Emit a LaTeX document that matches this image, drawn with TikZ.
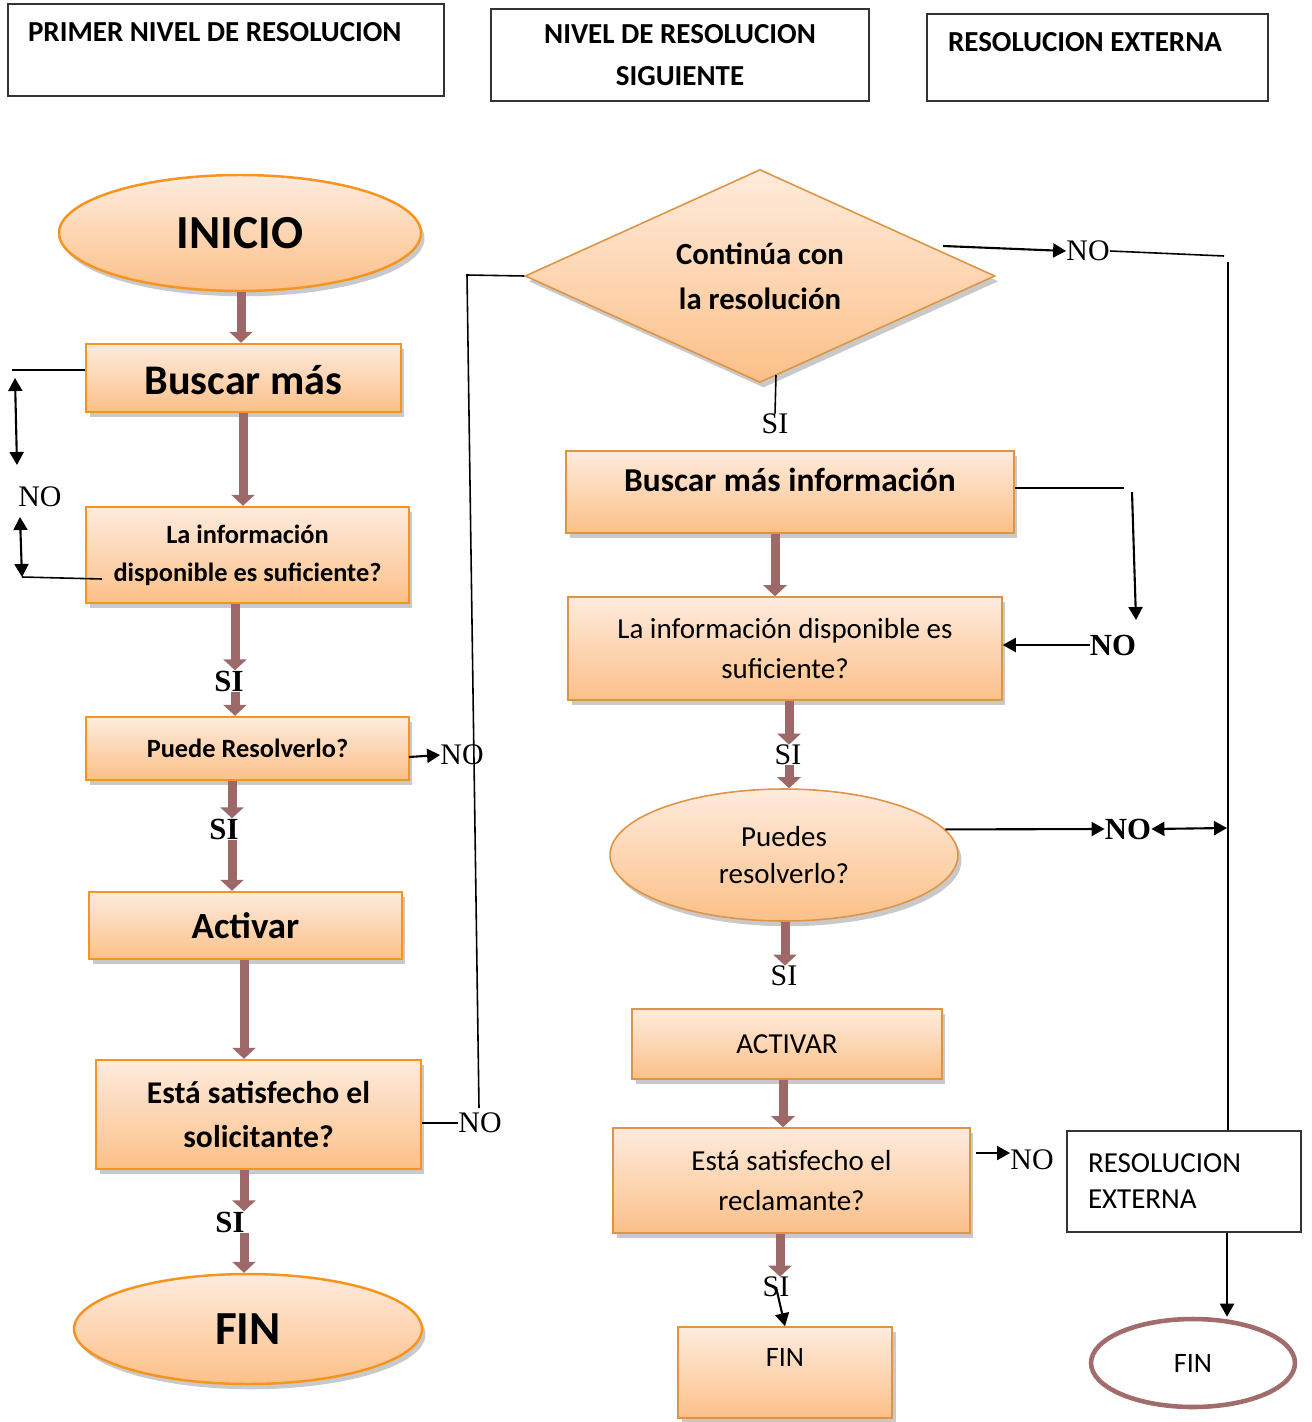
\documentclass[tikz,border=0pt]{standalone}
\usepackage{fontspec}
\setmainfont{Carlito}
\newfontfamily\tnr{Liberation Serif}
\usetikzlibrary{shapes.geometric,shadows,arrows.meta}
\definecolor{bordeA}{HTML}{F7941E}
\definecolor{bordeB}{HTML}{DE9445}
\definecolor{claro}{HTML}{FEEBDD}
\definecolor{oscuro}{HTML}{FCC088}
\definecolor{flecha}{HTML}{9C6868}
\definecolor{finborde}{HTML}{A26C6C}
\begin{document}
\begin{tikzpicture}[x=0.02cm,y=-0.02cm,
 caja/.style={rectangle,draw=bordeA,line width=1.4pt,top color=claro,bottom color=oscuro,
   drop shadow={shadow xshift=2pt,shadow yshift=-3pt,fill=black!30,opacity=0.7},
   inner sep=0pt,align=center},
 cajab/.style={caja,draw=bordeB,line width=0.9pt,font=\fontsize{16.5}{22.7}\selectfont},
 enc/.style={rectangle,draw=black!80,line width=0.9pt,inner sep=0pt,font=\bfseries\fontsize{16.5}{23.8}\selectfont},
 gruesa/.style={draw=flecha,line width=0.18cm,-{Triangle[width=0.46cm,length=0.22cm]}},
 fina/.style={line width=1.2pt,-{Triangle[width=0.28cm,length=0.26cm]}},
 dobl/.style={line width=1.2pt,{Triangle[width=0.28cm,length=0.26cm]}-{Triangle[width=0.28cm,length=0.26cm]}},
 linea/.style={line width=0.9pt},
 etq/.style={inner sep=0pt,font=\tnr\fontsize{17}{17}\selectfont},
 etqb/.style={inner sep=0pt,font=\tnr\bfseries\fontsize{17.5}{17}\selectfont}]
\useasboundingbox (0,0) rectangle (1311,1422);

% encabezados
\node[enc,minimum width=8.72cm,minimum height=1.84cm,text height=0.76cm,text depth=1.08cm] (enc1) at (226,50) {\makebox[7.92cm][l]{PRIMER NIVEL DE RESOLUCION}};
\node[enc,minimum width=7.56cm,minimum height=1.84cm,align=center] (enc2) at (680,55) {NIVEL DE RESOLUCION\\SIGUIENTE};
\node[enc,minimum width=6.82cm,minimum height=1.74cm,text height=0.76cm,text depth=0.98cm] (enc3) at (1097.5,57.5) {\makebox[5.98cm][l]{RESOLUCION EXTERNA}};

% primer nivel
\node[caja,ellipse,minimum width=7.24cm,minimum height=2.32cm,font=\bfseries\fontsize{27}{30}\selectfont] (inicio) at (240,233) {INICIO};
\node[caja,minimum width=6.3cm,minimum height=1.36cm,text height=1.02cm,text depth=0.34cm,font=\bfseries\fontsize{24}{28}\selectfont] (buscar) at (243.5,378) {Buscar más};
\node[caja,minimum width=6.46cm,minimum height=1.92cm,font=\bfseries\fontsize{15}{21.5}\selectfont] (info) at (247.5,555) {La información\\disponible es suficiente?};
\node[caja,minimum width=6.46cm,minimum height=1.26cm,font=\bfseries\fontsize{15}{18}\selectfont] (puede) at (247.5,748.5) {Puede Resolverlo?};
\node[caja,minimum width=6.26cm,minimum height=1.34cm,font=\bfseries\fontsize{21}{25}\selectfont] (activar) at (245.5,925.5) {Activar};
\node[caja,minimum width=6.5cm,minimum height=2.18cm,font=\bfseries\fontsize{18}{25.5}\selectfont] (esta) at (258.5,1114.5) {Está satisfecho el\\solicitante?};
\node[caja,ellipse,minimum width=6.96cm,minimum height=2.2cm,font=\bfseries\fontsize{27}{30}\selectfont] (fin) at (248,1329) {FIN};

% nivel siguiente
\node[caja,diamond,aspect=2.2,draw=bordeB,line width=0.9pt,minimum width=9.4cm,minimum height=4.26cm,font=\bfseries\fontsize{17.5}{25.5}\selectfont] (continua) at (760,276) {Continúa con\\la resolución};
\node[caja,draw=bordeB,line width=0.9pt,minimum width=8.96cm,minimum height=1.64cm,text height=0.81cm,text depth=0.83cm,font=\bfseries\fontsize{19}{23}\selectfont] (buscarinfo) at (790,492) {Buscar más información};
\node[cajab,minimum width=8.68cm,minimum height=2.06cm] (info2) at (785,648.5) {La información disponible es\\suficiente?};
\node[cajab,ellipse,minimum width=6.96cm,minimum height=2.64cm,font=\fontsize{16.5}{21}\selectfont] (puedes) at (784,855) {Puedes\\resolverlo?};
\node[cajab,minimum width=6.2cm,minimum height=1.4cm] (activar2) at (787,1044) {ACTIVAR};
\node[cajab,minimum width=7.14cm,minimum height=2.1cm] (esta2) at (791.5,1180.5) {Está satisfecho el\\reclamante?};
\node[cajab,minimum width=4.28cm,minimum height=1.82cm,text height=0.78cm,text depth=1.04cm,font=\fontsize{16}{20}\selectfont] (finb) at (785,1372.5) {FIN};

% resolucion externa
\node[rectangle,draw=black!80,line width=0.9pt,minimum width=4.68cm,minimum height=2.02cm,text width=3.84cm,inner xsep=0.42cm,inner ysep=0pt,align=left,font=\fontsize{16.5}{20.4}\selectfont] (resext) at (1184,1181.5) {RESOLUCION\\EXTERNA};
\node[ellipse,draw=finborde,line width=2.6pt,fill=white,minimum width=4.08cm,minimum height=1.76cm,font=\fontsize{16}{20}\selectfont] (finr) at (1193,1363) {FIN};

% etiquetas SI / NO
\node[etqb] (si1) at (229,681) {SI};
\node[etqb] (si2) at (224,829) {SI};
\node[etqb] (si3) at (230,1222) {SI};
\node[etq] (no1) at (40,497) {NO};
\node[etq] (no7) at (462,755) {NO};
\node[etq] (no5) at (480,1123) {NO};
\node[etq] (si4) at (775,424) {SI};
\node[etq] (si5) at (788,755) {SI};
\node[etq] (si6) at (784,976) {SI};
\node[etq] (si7) at (776,1287) {SI};
\node[etq] (no2) at (1088,251) {NO};
\node[etqb] (no3) at (1113,645) {NO};
\node[etqb] (no4) at (1128,829) {NO};
\node[etq] (no6) at (1032,1160) {NO};

% flechas gruesas
\foreach \a/\b/\x in {inicio/buscar/241, buscar/info/243, activar/esta/244, buscarinfo/info2/775, activar2/esta2/783}
{ \coordinate (ej) at (\x,0);
  \draw[gruesa] (\a.south -| ej) -- (\b.north -| ej); }
\foreach \a/\s/\b/\x in {info/si1/puede/235, puede/si2/activar/232, esta/si3/fin/244, info2/si5/puedes/789}
{ \coordinate (ej) at (\x,0);
  \draw[gruesa] (\a.south -| ej) -- (\s.north -| ej);
  \draw[gruesa] (\s.south -| ej) -- (\b.north -| ej); }
\coordinate (ej) at (785,0);
\draw[gruesa] (puedes.south -| ej) -- (si6.north -| ej);
\coordinate (ej) at (780,0);
\draw[gruesa] (esta2.south -| ej) -- (si7.north -| ej);
\draw[fina] (si7.center) -- (finb.north);

% rama NO del primer nivel
\coordinate (l1) at (12,370);
\coordinate (l2) at (15,378);
\coordinate (l3) at (17,465);
\coordinate (l4) at (20,517);
\coordinate (l5) at (22,577);
\coordinate (l6) at (102,579);
\draw[linea] (buscar.west |- l1) -- (l1);
\draw[dobl] (l2) -- (l3);
\draw[dobl] (l4) -- (l5);
\draw[linea] (l5) -- (l6);
\coordinate (p1) at (409,757);
\draw[fina] (p1) -- (no7.west);
\coordinate (c1) at (467,275);
\coordinate (c2) at (479,1108);
\draw[linea] (continua.west) -- (c1) -- (c2);
\draw[linea] (esta.east |- no5) -- (no5.west);

% ramas del nivel siguiente
\coordinate (d1) at (776,375);
\draw[linea] (d1) -- (si4.north);
\coordinate (d2) at (943,246);
\coordinate (d3) at (1224,256);
\draw[fina] (d2) -- (no2.west);
\draw[linea] (no2.east) -- (d3);
\coordinate (v1) at (1228,262);
\draw[linea] (v1) -- (v1 |- resext.north);
\coordinate (b1) at (1124,488);
\coordinate (b2) at (1132,492);
\coordinate (b3) at (1136,620);
\draw[linea] (buscarinfo.east |- b1) -- (b1);
\draw[fina] (b2) -- (b3);
\draw[fina] (no3.west) -- (info2.east |- no3.west);
\draw[fina] (puedes.9) -- (no4.west);
\coordinate (v2) at (1227,828);
\draw[dobl] (no4.east) -- (v2);
\coordinate (e1) at (976,1153);
\draw[fina] (e1) -- (e1 -| no6.west);
\coordinate (r1) at (1227,0);
\draw[fina] (resext.south -| r1) -- (finr.north -| r1);
\end{tikzpicture}
\end{document}
